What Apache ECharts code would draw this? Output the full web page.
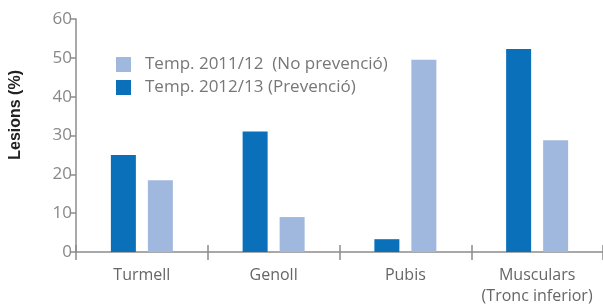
<!DOCTYPE html>
<html>
<head>
<meta charset="utf-8">
<script src="https://cdn.jsdelivr.net/npm/echarts@6/dist/echarts.min.js"></script>
<style>
  html, body { margin: 0; padding: 0; background: #fff; }
  #chart { width: 603px; height: 304px; }
</style>
</head>
<body>
<div id="chart"></div>
<script>
// dades llegides del gràfic
const categories = ['Turmell', 'Genoll', 'Pubis', 'Musculars\n(Tronc inferior)']
const prevencio = [25, 31, 3.3, 52.3]     // Temp. 2012/13
const noPrevencio = [18.5, 9, 49.5, 28.8] // Temp. 2011/12
const yTicks = [0, 10, 20, 30, 40, 50, 60]

const nameNo = 'Temp. 2011/12  (No prevenció)'
const nameSi = 'Temp. 2012/13 (Prevenció)'

const font = '"Open Sans", "Liberation Sans", Arial, sans-serif'
const axisColor = '#8c8c8c'

const chart = echarts.init(document.getElementById('chart'))
chart.setOption({
  animation: false,
  textStyle: { fontFamily: font },
  grid: { left: 76, right: 0, top: 19, bottom: 52, containLabel: false, outerBoundsMode: 'none' },
  legend: {
    orient: 'vertical',
    left: 111,
    top: 51,
    itemWidth: 15,
    itemHeight: 15,
    itemGap: 6,
    icon: 'rect',
    data: [nameNo, nameSi],
    textStyle: { color: '#777', fontSize: 17, fontFamily: font, padding: [0, 0, 0, 9] }
  },
  graphic: [{
    type: 'text',
    left: 8,
    top: 70,
    rotation: Math.PI / 2,
    style: { text: 'Lesions (%)', font: 'bold 16px "Liberation Sans", Arial, sans-serif', fill: '#222' }
  }],
  xAxis: [
    {
      type: 'category',
      data: categories,
      axisLine: { lineStyle: { color: axisColor, width: 1.5 } },
      axisTick: { show: true, interval: 0, length: 8, lineStyle: { color: axisColor, width: 1.5 } },
      axisLabel: { interval: 0, color: '#666', fontSize: 16, lineHeight: 21, margin: 13 }
    },
    {
      type: 'category',
      data: categories,
      position: 'bottom',
      axisLine: { show: false },
      axisTick: { show: true, interval: 0, inside: true, length: 7, lineStyle: { color: axisColor, width: 1.5 } },
      axisLabel: { show: false }
    }
  ],
  yAxis: {
    type: 'value',
    min: yTicks[0],
    max: yTicks[yTicks.length - 1],
    interval: 10,
    axisLine: { show: true, lineStyle: { color: axisColor, width: 1.5 } },
    axisTick: { show: true, length: 6, lineStyle: { color: axisColor, width: 1.5 } },
    splitLine: { show: false },
    axisLabel: { color: '#888', fontSize: 17, margin: 4 }
  },
  series: [
    {
      name: nameSi,
      type: 'bar',
      data: prevencio,
      barWidth: 25,
      barGap: '48%',
      itemStyle: { color: '#0a70b9' }
    },
    {
      name: nameNo,
      type: 'bar',
      data: noPrevencio,
      barWidth: 25,
      itemStyle: { color: '#a1b8de' }
    }
  ]
})
</script>
</body>
</html>
